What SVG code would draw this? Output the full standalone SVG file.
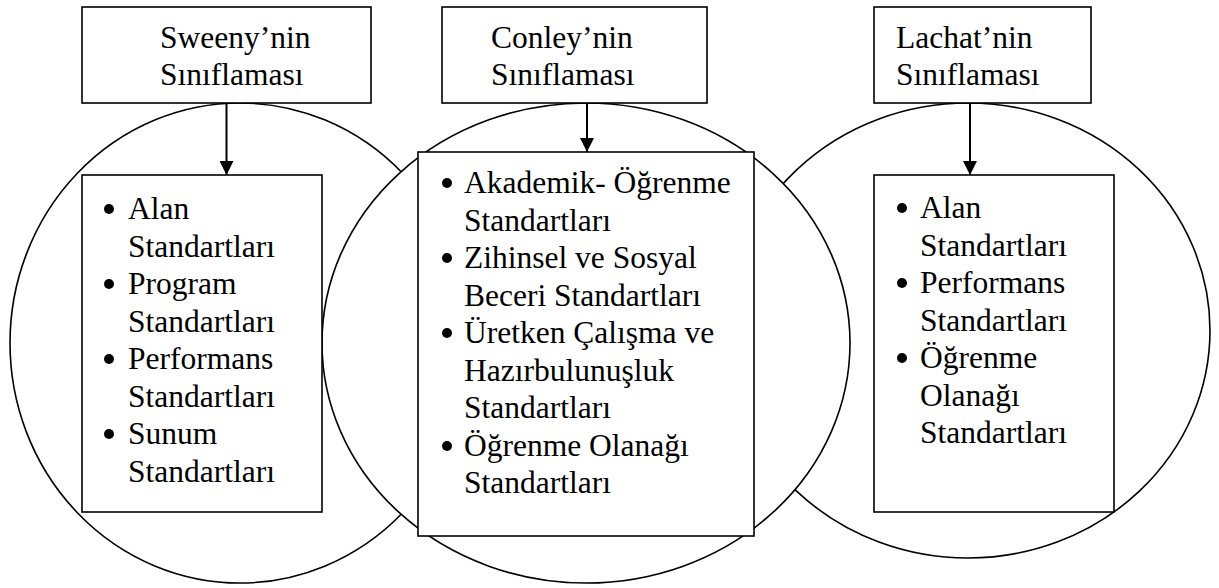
<svg xmlns="http://www.w3.org/2000/svg" width="1219" height="588" viewBox="0 0 1219 588">
<defs>
<style>
.bg{fill:#fff}
.ring{fill:#fff;stroke:#000;stroke-width:1.6}
.box{fill:#fff;stroke:#000;stroke-width:1.6}
.edge{stroke:#000;stroke-width:2;fill:none}
text{font-family:"Liberation Serif","Times New Roman",serif;font-size:31.5px;fill:#000}
.dot{fill:#000}
</style>
<marker id="ah" markerWidth="14" markerHeight="14" viewBox="0 0 14 14" refX="14" refY="7" orient="auto" markerUnits="userSpaceOnUse">
<path d="M0,0 L14,7 L0,14 Z" fill="#000"/>
</marker>
</defs>
<rect class="bg" x="0" y="0" width="1219" height="588"/>
<g id="circles">
<ellipse id="circle-left" class="ring" cx="240" cy="343" rx="230" ry="240"/>
<ellipse id="circle-right" class="ring" cx="968" cy="330.5" rx="242" ry="227.5"/>
<ellipse id="circle-middle" class="ring" cx="586" cy="343" rx="264" ry="240"/>
</g>
<g id="node-sweeny">
<rect class="box" x="82" y="7" width="289" height="96"/>
<text x="160" y="48">Sweeny’nin</text>
<text x="160" y="85">Sınıflaması</text>
</g>
<g id="node-conley">
<rect class="box" x="442" y="7" width="265" height="96"/>
<text x="491" y="48">Conley’nin</text>
<text x="491" y="85">Sınıflaması</text>
</g>
<g id="node-lachat">
<rect class="box" x="874" y="7" width="217" height="96"/>
<text x="896" y="48">Lachat’nin</text>
<text x="896" y="85">Sınıflaması</text>
</g>
<g id="connectors">
<line class="edge" x1="226.5" y1="103" x2="226.5" y2="175" marker-end="url(#ah)"/>
<line class="edge" x1="587" y1="103" x2="587" y2="152" marker-end="url(#ah)"/>
<line class="edge" x1="970" y1="103" x2="970" y2="175" marker-end="url(#ah)"/>
</g>
<g id="list-sweeny">
<rect class="box" x="82" y="175" width="240" height="337"/>
<circle class="dot" cx="109" cy="209" r="5"/>
<circle class="dot" cx="109" cy="284" r="5"/>
<circle class="dot" cx="109" cy="359" r="5"/>
<circle class="dot" cx="109" cy="434" r="5"/>
<text x="128" y="219">Alan</text>
<text x="128" y="256.5">Standartları</text>
<text x="128" y="294">Program</text>
<text x="128" y="331.5">Standartları</text>
<text x="128" y="369">Performans</text>
<text x="128" y="406.5">Standartları</text>
<text x="128" y="444">Sunum</text>
<text x="128" y="481.5">Standartları</text>
</g>
<g id="list-conley">
<rect class="box" x="418" y="152" width="336" height="384"/>
<circle class="dot" cx="447" cy="183" r="5"/>
<circle class="dot" cx="447" cy="258" r="5"/>
<circle class="dot" cx="447" cy="333" r="5"/>
<circle class="dot" cx="447" cy="446" r="5"/>
<text x="464" y="193">Akademik- Öğrenme</text>
<text x="464" y="230.5">Standartları</text>
<text x="464" y="268">Zihinsel ve Sosyal</text>
<text x="464" y="305.5">Beceri Standartları</text>
<text x="464" y="343">Üretken Çalışma ve</text>
<text x="464" y="380.5">Hazırbulunuşluk</text>
<text x="464" y="418">Standartları</text>
<text x="464" y="455.5">Öğrenme Olanağı</text>
<text x="464" y="493">Standartları</text>
</g>
<g id="list-lachat">
<rect class="box" x="874" y="175" width="240" height="337"/>
<circle class="dot" cx="902" cy="208" r="5"/>
<circle class="dot" cx="902" cy="283" r="5"/>
<circle class="dot" cx="902" cy="358" r="5"/>
<text x="920" y="218">Alan</text>
<text x="920" y="255.5">Standartları</text>
<text x="920" y="293">Performans</text>
<text x="920" y="330.5">Standartları</text>
<text x="920" y="368">Öğrenme</text>
<text x="920" y="405.5">Olanağı</text>
<text x="920" y="443">Standartları</text>
</g>
</svg>
